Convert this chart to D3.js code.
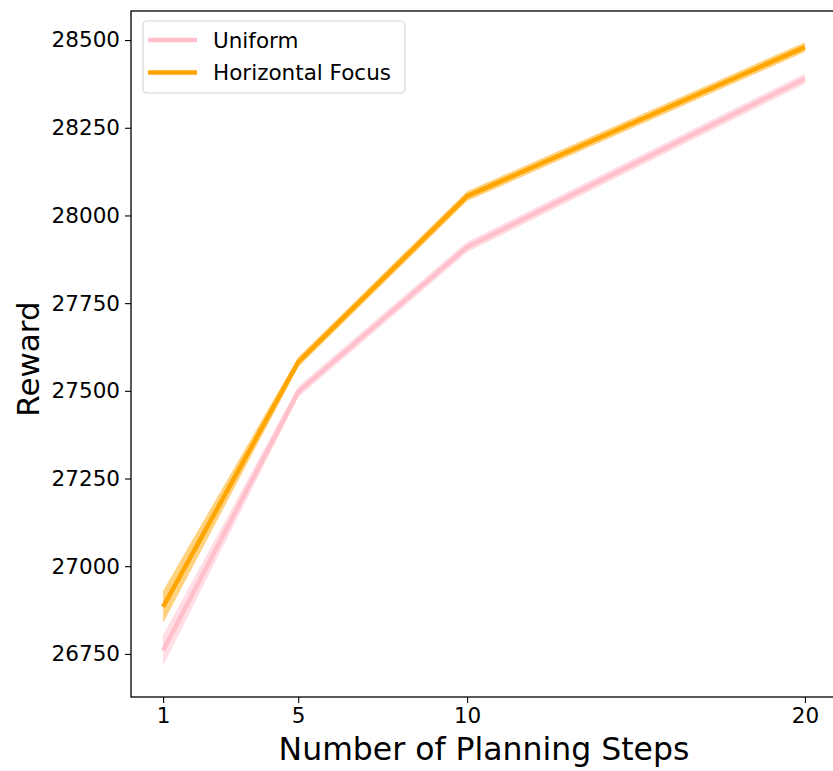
<!DOCTYPE html>
<html>
<head>
<meta charset="utf-8">
<script src="https://cdn.jsdelivr.net/npm/d3@7"></script>
<style>
  html, body { margin: 0; padding: 0; background: #fff; }
  svg { display: block; font-family: "DejaVu Sans", sans-serif; }
</style>
</head>
<body>
<svg id="chart" width="833" height="771"></svg>
<script>
// Planning steps on the x axis
const steps = [1, 5, 10, 20];
const xTickLabels = ["1", "5", "10", "20"];
const yTicks = [26750, 27000, 27250, 27500, 27750, 28000, 28250, 28500];

// Mean reward and spread per method
const uniformMean = [26760, 27497, 27910, 28390];
const uniformErr  = [44, 15, 15, 15];
const focusMean   = [26884, 27582, 28055, 28480];
const focusErr    = [46, 14, 14, 14];

const seriesNames = ["Uniform", "Horizontal Focus"];
const seriesColors = ["#FFC0CB", "#FFA500"];

const series = [
  { name: seriesNames[0], color: seriesColors[0], mean: uniformMean, err: uniformErr },
  { name: seriesNames[1], color: seriesColors[1], mean: focusMean, err: focusErr }
];

const svg = d3.select("#chart");
const plot = { left: 131, top: 11, right: 837, bottom: 697 };

// Matplotlib-like 5% padding around the data extent
function padded(lo, hi) {
  const p = (hi - lo) * 0.05;
  return [lo - p, hi + p];
}
const allLo = d3.min(series, s => d3.min(s.mean, (m, i) => m - s.err[i]));
const allHi = d3.max(series, s => d3.max(s.mean, (m, i) => m + s.err[i]));

const x = d3.scaleLinear().domain(padded(d3.min(steps), d3.max(steps))).range([plot.left, plot.right]);
const y = d3.scaleLinear().domain(padded(allLo, allHi)).range([plot.bottom, plot.top]);

// Spread bands
const area = d3.area()
  .x(d => x(d.step))
  .y0(d => y(d.mean - d.err))
  .y1(d => y(d.mean + d.err));
const line = d3.line()
  .x(d => x(d.step))
  .y(d => y(d.mean));

const g = svg.append("g");
series.forEach(s => {
  const pts = steps.map((st, i) => ({ step: st, mean: s.mean[i], err: s.err[i] }));
  g.append("path")
    .datum(pts)
    .attr("d", area)
    .attr("fill", s.color)
    .attr("fill-opacity", 0.5)
    .attr("stroke", "none");
  g.append("path")
    .datum(pts)
    .attr("d", line)
    .attr("fill", "none")
    .attr("stroke", s.color)
    .attr("stroke-width", 4.5)
    .attr("stroke-linejoin", "round");
});

// Axes
const xAxis = d3.axisBottom(x)
  .tickValues(steps)
  .tickFormat((d, i) => xTickLabels[i])
  .tickSize(6)
  .tickPadding(5);
const yAxis = d3.axisLeft(y)
  .tickValues(yTicks)
  .tickFormat(d3.format("d"))
  .tickSize(6)
  .tickPadding(5);

const gx = svg.append("g")
  .attr("transform", `translate(0,${plot.bottom})`)
  .call(xAxis);
const gy = svg.append("g")
  .attr("transform", `translate(${plot.left},0)`)
  .call(yAxis);

[gx, gy].forEach(ax => {
  ax.select(".domain").remove();
  ax.selectAll(".tick line").attr("stroke", "#000").attr("stroke-width", 1.1);
  ax.selectAll(".tick text")
    .attr("fill", "#000")
    .style("font-size", "21.5px")
    .style("font-family", "'DejaVu Sans', sans-serif");
});

// Frame
svg.append("rect")
  .attr("x", plot.left)
  .attr("y", plot.top)
  .attr("width", plot.right - plot.left)
  .attr("height", plot.bottom - plot.top)
  .attr("fill", "none")
  .attr("stroke", "#000")
  .attr("stroke-width", 1.3);

// Axis titles
svg.append("text")
  .attr("x", 484)
  .attr("y", 760)
  .attr("text-anchor", "middle")
  .style("font-size", "31.5px")
  .text("Number of Planning Steps");

svg.append("text")
  .attr("transform", `translate(39,${(plot.top + plot.bottom) / 2 + 5}) rotate(-90)`)
  .attr("text-anchor", "middle")
  .style("font-size", "31px")
  .text("Reward");

// Legend
const leg = svg.append("g");
leg.append("rect")
  .attr("x", 143).attr("y", 21)
  .attr("width", 262).attr("height", 72)
  .attr("rx", 4).attr("ry", 4)
  .attr("fill", "#fff").attr("fill-opacity", 0.8)
  .attr("stroke", "#d6d6d6").attr("stroke-width", 1.2);

series.forEach((s, i) => {
  const cy = 40 + i * 32.5;
  leg.append("line")
    .attr("x1", 148).attr("x2", 197)
    .attr("y1", cy).attr("y2", cy)
    .attr("stroke", s.color)
    .attr("stroke-width", 4.5);
  leg.append("text")
    .attr("x", 213).attr("y", cy + 7.5)
    .style("font-size", "21.5px")
    .attr("fill", "#000")
    .text(s.name);
});
</script>
</body>
</html>
